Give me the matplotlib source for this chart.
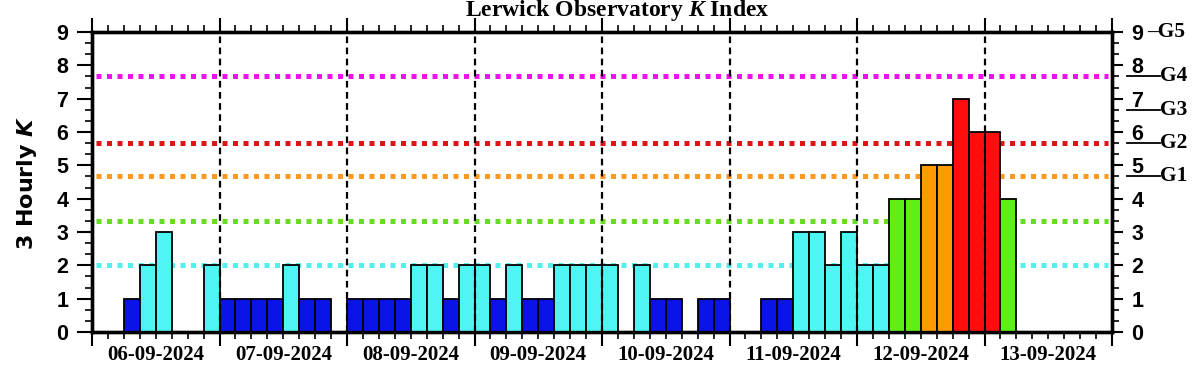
import numpy as np
import matplotlib
matplotlib.use("Agg")
import matplotlib.pyplot as plt
from matplotlib.transforms import blended_transform_factory

nan = np.nan

# 3-hourly K values, 8 per day, starting 06-09-2024 00 UT (nan = no data)
day_labels = ["06-09-2024", "07-09-2024", "08-09-2024", "09-09-2024",
              "10-09-2024", "11-09-2024", "12-09-2024", "13-09-2024"]
k_values = [
    nan, nan, 1, 2, 3, nan, nan, 2,   # 06-09
    1, 1, 1, 1, 2, 1, 1, nan,         # 07-09
    1, 1, 1, 1, 2, 2, 1, 2,           # 08-09
    2, 1, 2, 1, 1, 2, 2, 2,           # 09-09
    2, nan, 2, 1, 1, nan, 1, 1,       # 10-09
    nan, nan, 1, 1, 3, 3, 2, 3,       # 11-09
    2, 2, 4, 4, 5, 5, 7, 6,           # 12-09
    6, 4, nan, nan, nan, nan, nan, nan,  # 13-09
]

# K -> bar colour
k_colours = {0: "#0b14e8", 1: "#0b14e8", 2: "#4ef5f2", 3: "#4ef5f2",
             4: "#5cf016", 5: "#ff9a00", 6: "#ff0d0d", 7: "#ff0d0d",
             8: "#ee11ee", 9: "#ee11ee"}

# dotted threshold lines
thresh_levels = [2.0, 3.33, 4.67, 5.67, 7.67]
thresh_colours = ["#55eeee", "#66dd22", "#ff9922", "#dd1515", "#ee11ee"]

# storm levels on the right hand axis
g_labels = ["G1", "G2", "G3", "G4", "G5"]
g_levels = [4.67, 5.67, 6.67, 7.67, 9.0]

plt.rcParams["mathtext.fontset"] = "custom"
plt.rcParams["mathtext.it"] = "Liberation Serif:italic:bold"
plt.rcParams["mathtext.sf"] = "DejaVu Sans:italic:bold"


def style_ticks(a, length, pad):
    a.set_ylim(0, 9)
    a.set_yticks(np.arange(0, 10))
    a.set_yticks(np.arange(0, 9.01, 1 / 3.0), minor=True)
    a.tick_params(axis="y", which="major", length=length, width=1.5,
                  direction="out", pad=pad)
    a.tick_params(axis="y", which="minor", length=5, width=1.2,
                  direction="out")
    for lab in a.get_yticklabels():
        lab.set_fontfamily("Liberation Sans")
        lab.set_fontweight("bold")
        lab.set_fontsize(15.5)


def main():
    fig = plt.figure(figsize=(12.02, 3.75), dpi=100)
    ax = fig.add_axes([92 / 1202, 43 / 375, 1020 / 1202, 300 / 375])

    ndays = len(day_labels)
    k = np.array(k_values, dtype=float)
    slot = np.arange(len(k)) / 8.0
    ok = ~np.isnan(k)
    cols = [k_colours[int(v)] for v in k[ok]]
    ax.bar(slot[ok], k[ok], width=1 / 8.0, align="edge", color=cols,
           edgecolor="black", linewidth=1.3, zorder=3)

    for lev, c in zip(thresh_levels, thresh_colours):
        ax.axhline(lev, xmin=0.004, xmax=0.996, color=c, linewidth=3.6,
                   linestyle=(0, (1, 1.1)), zorder=1)

    for d in range(1, ndays):
        ax.axvline(d, color="black", linewidth=1.6, linestyle=(0, (3, 2)),
                   zorder=4)

    ax.set_xlim(0, ndays)
    ax.set_xticks(np.arange(0, ndays + 1))
    ax.set_xticks(np.arange(0, ndays + 0.01, 1 / 8.0), minor=True)
    ax.set_xticklabels([])
    ax.tick_params(axis="x", which="major", length=10, width=1.5,
                   direction="out", top=True)
    ax.tick_params(axis="x", which="minor", length=5, width=1.2,
                   direction="out", top=True)

    style_ticks(ax, 11, 6)
    axr = ax.twinx()
    style_ticks(axr, 8, 6)

    for sp in list(ax.spines.values()) + list(axr.spines.values()):
        sp.set_linewidth(2.4)

    trans = blended_transform_factory(ax.transData, ax.transAxes)
    for i, lab in enumerate(day_labels):
        ax.text(i + 0.5, -0.077, lab, transform=trans, ha="center",
                va="center", fontsize=15, fontweight="bold",
                family="Liberation Serif")

    gtrans = blended_transform_factory(ax.transAxes, ax.transData)
    for lab, lev in zip(g_labels, g_levels):
        if lev >= 9:
            ax.text(1.034, lev, "\u2013" + lab, transform=gtrans, ha="left",
                    va="center", fontsize=15.5, fontweight="bold",
                    family="Liberation Serif", clip_on=False)
        else:
            ax.plot([1.0147, 1.0471], [lev, lev], color="black", linewidth=1.3,
                    transform=gtrans, clip_on=False)
            ax.text(1.0471, lev, lab, transform=gtrans, ha="left",
                    va="center", fontsize=15.5, fontweight="bold",
                    family="Liberation Serif", clip_on=False)

    fig.text(617 / 1202, 0.972, "Lerwick Observatory $\\mathit{K}$ Index",
             ha="center", va="center", fontsize=17, fontweight="bold",
             family="Liberation Serif")
    fig.text(27 / 1202, 1 - 183 / 375, "3 Hourly $\\mathsf{K}$",
             rotation=90, ha="center", va="center", fontsize=16,
             fontweight="bold", family="DejaVu Sans")

    fig.savefig("out.png", dpi=100)


if __name__ == '__main__':
    main()
